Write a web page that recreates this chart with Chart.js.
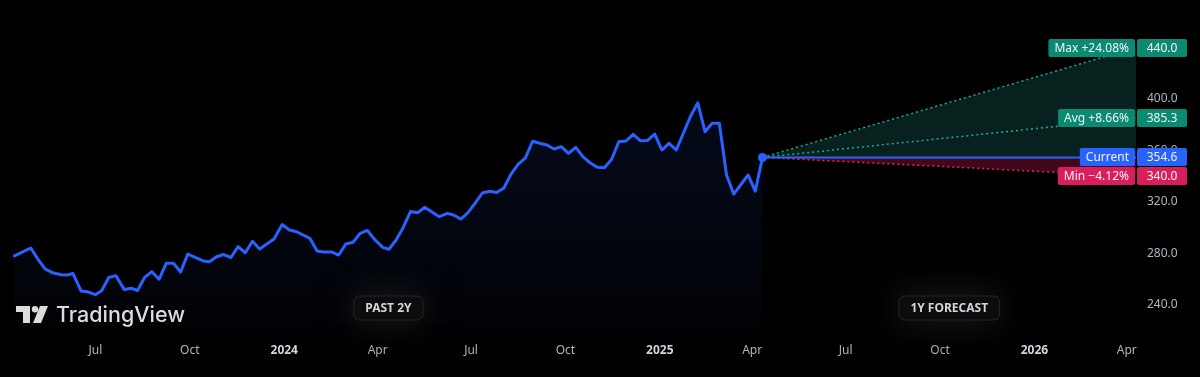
<!DOCTYPE html>
<html lang="en">
<head>
<meta charset="UTF-8">
<title>Price forecast</title>
<script src="https://cdn.jsdelivr.net/npm/chart.js@4.4.1/dist/chart.umd.min.js"></script>
<style>
    html, body { margin: 0; padding: 0; background: #000; }
    #wrap { width: 1200px; height: 377px; }
    canvas { display: block; }
</style>
</head>
<body>
<div id="wrap"><canvas id="chart" width="1200" height="377"></canvas></div>
<script>
// weekly closes, past 2 years
const histDates = [
    '2023-04-13', '2023-04-29', '2023-05-06', '2023-05-13', '2023-05-20', '2023-05-29',
    '2023-06-04', '2023-06-09', '2023-06-17', '2023-06-23', '2023-07-01', '2023-07-07',
    '2023-07-14', '2023-07-21', '2023-07-29', '2023-08-05', '2023-08-11', '2023-08-18',
    '2023-08-25', '2023-09-01', '2023-09-08', '2023-09-15', '2023-09-22', '2023-09-29',
    '2023-10-14', '2023-10-20', '2023-10-27', '2023-11-03', '2023-11-10', '2023-11-17',
    '2023-11-24', '2023-12-01', '2023-12-08', '2023-12-22', '2023-12-30', '2024-01-06',
    '2024-01-13', '2024-01-26', '2024-02-02', '2024-02-08', '2024-02-16', '2024-02-23',
    '2024-03-01', '2024-03-08', '2024-03-15', '2024-03-22', '2024-03-29', '2024-04-06',
    '2024-04-12', '2024-04-19', '2024-04-25', '2024-05-03', '2024-05-10', '2024-05-17',
    '2024-05-24', '2024-05-31', '2024-06-08', '2024-06-14', '2024-06-21', '2024-06-28',
    '2024-07-05', '2024-07-12', '2024-07-19', '2024-07-26', '2024-08-02', '2024-08-09',
    '2024-08-16', '2024-08-23', '2024-08-30', '2024-09-06', '2024-09-13', '2024-09-20',
    '2024-09-27', '2024-10-04', '2024-10-11', '2024-10-18', '2024-10-25', '2024-11-01',
    '2024-11-08', '2024-11-15', '2024-11-22', '2024-11-29', '2024-12-06', '2024-12-13',
    '2024-12-20', '2024-12-27', '2025-01-03', '2025-01-10', '2025-01-17', '2025-01-24',
    '2025-01-31', '2025-02-07', '2025-02-14', '2025-02-21', '2025-02-28', '2025-03-07',
    '2025-03-14', '2025-03-21', '2025-03-28', '2025-04-04', '2025-04-11'
];
const histValues = [
    278.1, 284.3, 275.5, 268.0, 265.1, 263.5,
    263.3, 264.6, 250.9, 250.3, 248.0, 251.1,
    261.4, 262.8, 252.0, 253.0, 251.3, 261.5,
    265.9, 260.0, 272.4, 272.4, 265.6, 279.6,
    274.2, 273.6, 277.5, 279.2, 276.9, 285.3,
    280.6, 289.5, 283.5, 291.3, 302.5, 298.3,
    296.9, 291.8, 281.9, 281.2, 281.2, 278.8,
    287.4, 288.8, 295.7, 297.9, 291.0, 284.8,
    283.3, 290.5, 298.8, 312.6, 311.7, 315.9,
    312.2, 308.6, 311.2, 309.9, 306.8, 311.7,
    319.2, 327.0, 328.3, 327.4, 330.9, 341.7,
    349.5, 354.3, 367.2, 365.6, 364.3, 361.2,
    363.0, 357.8, 362.5, 355.2, 350.5, 347.0,
    346.6, 353.2, 366.8, 367.4, 372.6, 367.6,
    367.8, 372.8, 360.4, 365.6, 360.4, 373.6,
    386.8, 397.1, 374.6, 381.1, 381.1, 341.0,
    326.2, 333.6, 341.0, 328.5, 354.6
];

// 1 year forecast
const forecastEnd = '2026-04-10';
const forecastMax = 440.0;
const forecastAvg = 385.3;
const forecastMin = 340.0;

const axisStart = '2023-03-30';
const yTicks = [240, 280, 320, 360, 400, 440];
const xTickDates = ['2023-07-01', '2023-10-01', '2024-01-01', '2024-04-01', '2024-07-01', '2024-10-01',
                    '2025-01-01', '2025-04-01', '2025-07-01', '2025-10-01', '2026-01-01', '2026-04-01'];
const xTickLabels = ['Jul', 'Oct', '2024', 'Apr', 'Jul', 'Oct', '2025', 'Apr', 'Jul', 'Oct', '2026', 'Apr'];

const FONT = '"Noto Sans", "DejaVu Sans", sans-serif';
const BLUE = '#2962ff';
const TEAL = '#22ab94';
const RED = '#e91e63';

function day(s) {
    return Date.parse(s + 'T00:00:00Z') / 864e5;
}

const lastDay = day(histDates[histDates.length - 1]);
const current = histValues[histValues.length - 1];
const endDay = day(forecastEnd);

function pct(v) {
    const p = (v / current - 1) * 100;
    return (p >= 0 ? '+' : '\u2212') + Math.abs(p).toFixed(2) + '%';
}

function roundRect(ctx, x, y, w, h, r) {
    ctx.beginPath();
    ctx.roundRect(x, y, w, h, r);
}

// price tag on the right edge: label part + value part
function tag(chart, label, value, bg) {
    const ctx = chart.ctx;
    const area = chart.chartArea;
    const y = Math.round(chart.scales.y.getPixelForValue(value));
    ctx.save();
    ctx.font = '12px ' + FONT;
    ctx.textBaseline = 'middle';
    ctx.textAlign = 'center';
    const w = ctx.measureText(label).width + 12;
    ctx.fillStyle = bg;
    roundRect(ctx, area.right - 1 - w, y - 9, w, 18, 2);
    ctx.fill();
    roundRect(ctx, area.right + 1, y - 9, 50, 18, 2);
    ctx.fill();
    ctx.fillStyle = '#f0f3fa';
    ctx.fillText(label, area.right - 1 - w / 2, y + 0.5);
    ctx.fillText(value.toFixed(1), area.right + 26, y + 0.5);
    ctx.restore();
}

function badge(ctx, text, cx, cy) {
    ctx.save();
    ctx.font = 'bold 12px ' + FONT;
    const w = ctx.measureText(text).width + 24;
    const h = 25;
    ctx.shadowColor = 'rgba(40,40,40,0.8)';
    ctx.shadowBlur = 36;
    ctx.fillStyle = '#0c0c0c';
    roundRect(ctx, cx - w / 2, cy - h / 2, w, h, 6);
    ctx.fill();
    ctx.shadowBlur = 0;
    ctx.strokeStyle = 'rgba(255,255,255,0.1)';
    ctx.lineWidth = 1;
    roundRect(ctx, cx - w / 2 + 0.5, cy - h / 2 + 0.5, w - 1, h - 1, 6);
    ctx.stroke();
    ctx.fillStyle = '#d1d4dc';
    ctx.textAlign = 'center';
    ctx.textBaseline = 'middle';
    ctx.fillText(text, cx, cy + 0.5);
    ctx.restore();
}

function logo(ctx, x, y) {
    ctx.save();
    ctx.fillStyle = '#dcdcdc';
    // "T" part
    ctx.fillRect(x, y, 14, 6);
    ctx.fillRect(x + 7, y, 7, 17);
    // dot
    ctx.beginPath();
    ctx.arc(x + 19, y + 3.2, 3.2, 0, Math.PI * 2);
    ctx.fill();
    // slash
    ctx.beginPath();
    ctx.moveTo(x + 24, y);
    ctx.lineTo(x + 32, y);
    ctx.lineTo(x + 25, y + 17);
    ctx.lineTo(x + 17, y + 17);
    ctx.closePath();
    ctx.fill();
    // word mark
    ctx.font = '500 21px Inter, ' + FONT;
    ctx.textBaseline = 'alphabetic';
    const w = ctx.measureText('TradingView').width;
    ctx.translate(x + 40, y + 16);
    ctx.scale(129 / w, 1);
    ctx.fillText('TradingView', 0, 0);
    ctx.restore();
}

const overlay = {
    id: 'overlay',
    afterDraw(chart) {
        const ctx = chart.ctx;
        const xs = chart.scales.x;
        const x0 = xs.getPixelForValue(day(histDates[0]));
        const x1 = xs.getPixelForValue(lastDay);
        const x2 = xs.getPixelForValue(endDay);
        logo(ctx, 16, 306);
        badge(ctx, 'PAST 2Y', (x0 + x1) / 2, 308);
        badge(ctx, '1Y FORECAST', (x1 + Math.min(x2, chart.chartArea.right)) / 2, 308);

        tag(chart, 'Max ' + pct(forecastMax), forecastMax, '#0b8a72');
        tag(chart, 'Avg ' + pct(forecastAvg), forecastAvg, '#0b8a72');
        tag(chart, 'Current', current, BLUE);
        tag(chart, 'Min ' + pct(forecastMin), forecastMin, '#d81e5b');
    }
};

function histFill(c) {
    const area = c.chart.chartArea;
    if (!area) return 'transparent';
    const g = c.chart.ctx.createLinearGradient(0, area.top + 90, 0, area.bottom);
    g.addColorStop(0, 'rgba(41,98,255,0.11)');
    g.addColorStop(1, 'rgba(41,98,255,0.025)');
    return g;
}

function seg(to) {
    return [{ x: lastDay, y: current }, { x: endDay, y: to }];
}

new Chart(document.getElementById('chart'), {
    type: 'line',
    data: {
        datasets: [
            {
                data: histDates.map((d, i) => ({ x: day(d), y: histValues[i] })),
                borderColor: BLUE,
                borderWidth: 3,
                borderJoinStyle: 'round',
                borderCapStyle: 'round',
                pointRadius: 0,
                fill: 'start',
                backgroundColor: histFill
            },
            {
                data: [{ x: lastDay, y: current }],
                showLine: false,
                pointRadius: 4.5,
                pointBackgroundColor: BLUE,
                pointBorderWidth: 0
            },
            {
                data: seg(current),
                borderColor: BLUE,
                borderWidth: 2,
                pointRadius: 0
            },
            {
                data: seg(forecastMax),
                borderColor: TEAL,
                borderWidth: 1.5,
                borderDash: [2, 3],
                pointRadius: 0,
                fill: { target: 2 },
                backgroundColor: 'rgba(34,171,148,0.2)'
            },
            {
                data: seg(forecastAvg),
                borderColor: TEAL,
                borderWidth: 1.5,
                borderDash: [2, 3],
                pointRadius: 0,
                fill: false
            },
            {
                data: seg(forecastMin),
                borderColor: RED,
                borderWidth: 1.5,
                borderDash: [2, 3],
                pointRadius: 0,
                fill: { target: 2 },
                backgroundColor: 'rgba(233,30,99,0.28)'
            }
        ]
    },
    options: {
        responsive: false,
        animation: false,
        layout: { padding: 0, autoPadding: false },
        plugins: {
            legend: { display: false },
            tooltip: { enabled: false }
        },
        scales: {
            x: {
                type: 'linear',
                min: day(axisStart),
                max: endDay,
                grid: { display: false, drawTicks: false },
                border: { display: false },
                afterBuildTicks: s => { s.ticks = xTickDates.map(d => ({ value: day(d) })); },
                afterFit: s => { s.height = 51; s.paddingLeft = 0; s.paddingRight = 0; },
                ticks: {
                    autoSkip: false,
                    maxRotation: 0,
                    padding: 17,
                    callback: (v, i) => xTickLabels[i],
                    color: c => /^\d/.test(xTickLabels[c.index]) ? '#d1d4dc' : '#b2b5be',
                    font: c => ({ family: FONT, size: 12, weight: /^\d/.test(xTickLabels[c.index]) ? 'bold' : 'normal' })
                }
            },
            y: {
                position: 'right',
                min: 223.7,
                max: 476.9,
                grid: { display: false, drawTicks: false },
                border: { display: false },
                afterBuildTicks: s => { s.ticks = yTicks.map(v => ({ value: v })); },
                afterFit: s => { s.width = 64; s.paddingTop = 0; s.paddingBottom = 0; },
                ticks: {
                    padding: 11,
                    color: '#b2b5be',
                    font: { family: FONT, size: 12 },
                    callback: v => v.toFixed(1)
                }
            }
        }
    },
    plugins: [overlay]
});
</script>
</body>
</html>
